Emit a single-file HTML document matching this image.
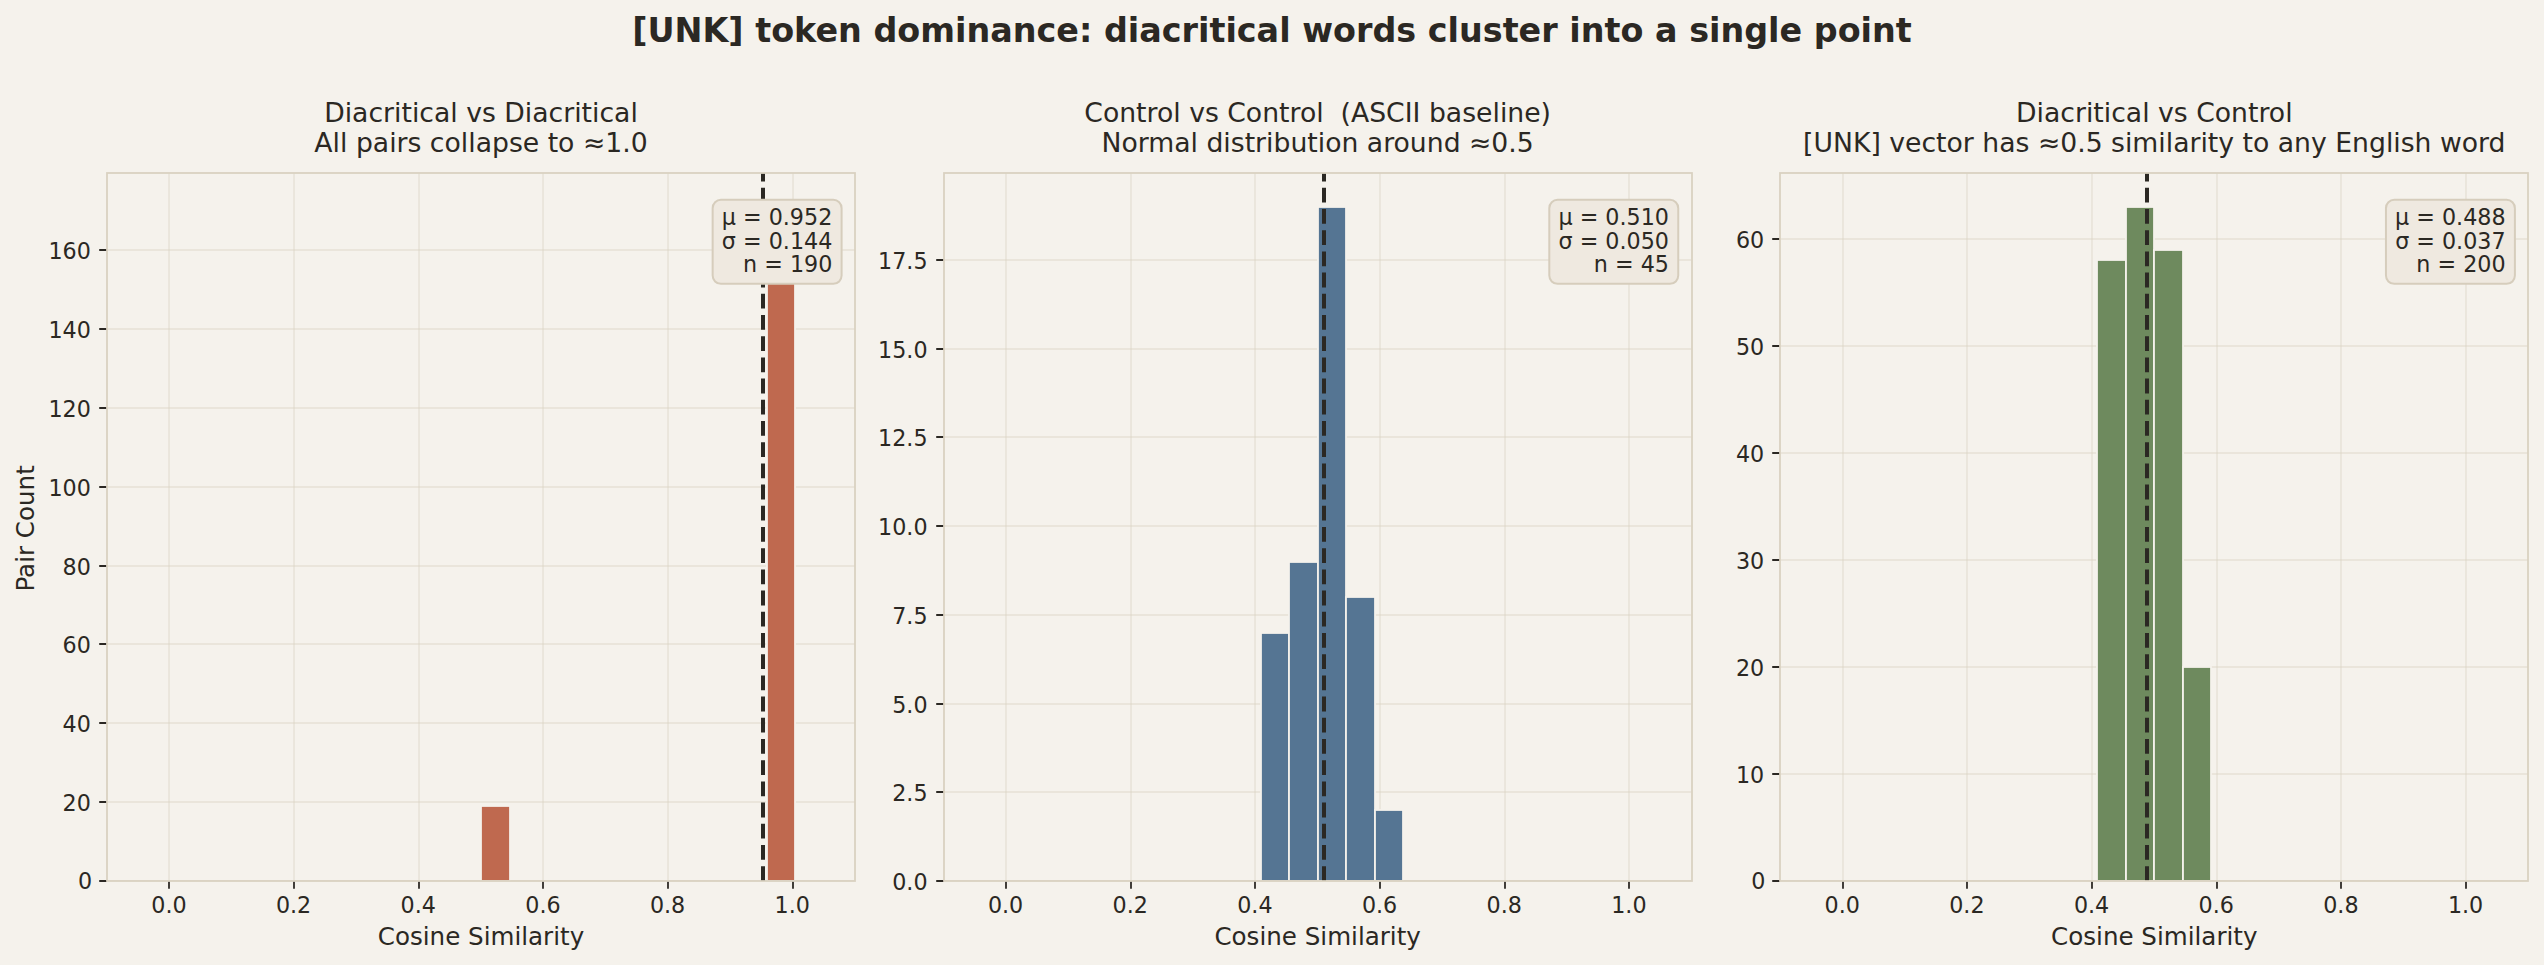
<!DOCTYPE html>
<html lang="en"><head><meta charset="utf-8"><title>[UNK] token dominance</title>
<style>html,body{margin:0;padding:0;background:#f5f2ec;}body{width:2544px;height:965px;overflow:hidden;}svg{display:block;}text{white-space:pre;}</style>
</head><body>
<svg width="2544" height="965" viewBox="0 0 2544 965" font-family="'DejaVu Sans', 'Liberation Sans', sans-serif" fill="#2b2823">
<rect width="2544" height="965" fill="#f5f2ec"/>
<defs><clipPath id="c0"><rect x="107" y="173" width="748" height="708"/></clipPath><clipPath id="c1"><rect x="943.65" y="173" width="748" height="708"/></clipPath><clipPath id="c2"><rect x="1780.3" y="173" width="748" height="708"/></clipPath></defs>
<g id="ax0">
<g stroke="#d9d1c1" stroke-opacity="0.39" stroke-width="1.78" fill="none" clip-path="url(#c0)"><path d="M169 881V173M294 881V173M419 881V173M543 881V173M668 881V173M793 881V173"/><path d="M107 881H855M107 802H855M107 723H855M107 644H855M107 566H855M107 487H855M107 408H855M107 329H855M107 250H855"/></g>
<rect x="481" y="806" width="29" height="75" fill="#bf694f" stroke="#f5f2ec" stroke-width="1.78" clip-path="url(#c0)"/>
<rect x="767" y="207" width="28" height="674" fill="#bf694f" stroke="#f5f2ec" stroke-width="1.78" clip-path="url(#c0)"/>
<path d="M763 881V173" stroke="#2b2823" stroke-width="4" stroke-dasharray="14.8 6.4" fill="none"/>
<path d="M169 881v7.78M294 881v7.78M419 881v7.78M543 881v7.78M668 881v7.78M793 881v7.78M107 881h-7.78M107 802h-7.78M107 723h-7.78M107 644h-7.78M107 566h-7.78M107 487h-7.78M107 408h-7.78M107 329h-7.78M107 250h-7.78" stroke="#2b2823" stroke-width="1.78" fill="none"/>
<rect x="107" y="173" width="748" height="708" fill="none" stroke="#d9d1c1" stroke-width="1.78"/>
<g font-size="22.22" text-anchor="middle"><text x="168.93" y="913.2">0.0</text><text x="293.6" y="913.2">0.2</text><text x="418.27" y="913.2">0.4</text><text x="542.93" y="913.2">0.6</text><text x="667.6" y="913.2">0.8</text><text x="792.27" y="913.2">1.0</text></g>
<g font-size="22.22" text-anchor="end"><text x="92.1" y="889.4">0</text><text x="90.9" y="811.14">20</text><text x="90.9" y="732.27">40</text><text x="90.9" y="653.41">60</text><text x="90.9" y="574.54">80</text><text x="90.9" y="495.68">100</text><text x="90.9" y="416.82">120</text><text x="90.9" y="337.95">140</text><text x="90.9" y="259.09">160</text></g>
<text x="481" y="945.4" font-size="24.57" text-anchor="middle">Cosine Similarity</text>
<text transform="translate(33.6 528.4) rotate(-90)" font-size="24.57" text-anchor="middle">Pair Count</text>
<g font-size="26.67" text-anchor="middle"><text x="481" y="122" xml:space="preserve">Diacritical vs Diacritical</text><text x="481" y="152">All pairs collapse to ≈1.0</text></g>
<rect x="712.65" y="199.85" width="128.95" height="84" rx="8.3" fill="#efe9e0" stroke="#d6cdbc" stroke-width="2"/>
<g font-size="22.22" text-anchor="end"><text x="832.3" y="225">μ = 0.952</text><text x="832.3" y="248.6">σ = 0.144</text><text x="832.3" y="271.6">n = 190</text></g>
</g>
<g id="ax1">
<g stroke="#d9d1c1" stroke-opacity="0.39" stroke-width="1.78" fill="none" clip-path="url(#c1)"><path d="M1006 881V173M1131 881V173M1255 881V173M1380 881V173M1505 881V173M1629 881V173"/><path d="M943.65 881H1691.65M943.65 792H1691.65M943.65 704H1691.65M943.65 615H1691.65M943.65 526H1691.65M943.65 437H1691.65M943.65 349H1691.65M943.65 260H1691.65"/></g>
<rect x="1261" y="633" width="28" height="248" fill="#557593" stroke="#f5f2ec" stroke-width="1.78" clip-path="url(#c1)"/>
<rect x="1289" y="562" width="29" height="319" fill="#557593" stroke="#f5f2ec" stroke-width="1.78" clip-path="url(#c1)"/>
<rect x="1318" y="207" width="28" height="674" fill="#557593" stroke="#f5f2ec" stroke-width="1.78" clip-path="url(#c1)"/>
<rect x="1346" y="597" width="29" height="284" fill="#557593" stroke="#f5f2ec" stroke-width="1.78" clip-path="url(#c1)"/>
<rect x="1375" y="810" width="28" height="71" fill="#557593" stroke="#f5f2ec" stroke-width="1.78" clip-path="url(#c1)"/>
<path d="M1324 881V173" stroke="#2b2823" stroke-width="4" stroke-dasharray="14.8 6.4" fill="none"/>
<path d="M1006 881v7.78M1131 881v7.78M1255 881v7.78M1380 881v7.78M1505 881v7.78M1629 881v7.78M944 881h-7.78M944 792h-7.78M944 704h-7.78M944 615h-7.78M944 526h-7.78M944 437h-7.78M944 349h-7.78M944 260h-7.78" stroke="#2b2823" stroke-width="1.78" fill="none"/>
<rect x="944" y="173" width="748" height="708" fill="none" stroke="#d9d1c1" stroke-width="1.78"/>
<g font-size="22.22" text-anchor="middle"><text x="1005.58" y="913.2">0.0</text><text x="1130.25" y="913.2">0.2</text><text x="1254.92" y="913.2">0.4</text><text x="1379.58" y="913.2">0.6</text><text x="1504.25" y="913.2">0.8</text><text x="1628.92" y="913.2">1.0</text></g>
<g font-size="22.22" text-anchor="end"><text x="927.55" y="890">0.0</text><text x="927.55" y="801.28">2.5</text><text x="927.55" y="712.56">5.0</text><text x="927.55" y="623.83">7.5</text><text x="927.55" y="535.11">10.0</text><text x="927.55" y="446.39">12.5</text><text x="927.55" y="357.67">15.0</text><text x="927.55" y="268.95">17.5</text></g>
<text x="1317.65" y="945.4" font-size="24.57" text-anchor="middle">Cosine Similarity</text>
<g font-size="26.67" text-anchor="middle"><text x="1317.65" y="122" xml:space="preserve">Control vs Control  (ASCII baseline)</text><text x="1317.65" y="152">Normal distribution around ≈0.5</text></g>
<rect x="1549.3" y="199.85" width="128.95" height="84" rx="8.3" fill="#efe9e0" stroke="#d6cdbc" stroke-width="2"/>
<g font-size="22.22" text-anchor="end"><text x="1668.95" y="225">μ = 0.510</text><text x="1668.95" y="248.6">σ = 0.050</text><text x="1668.95" y="271.6">n = 45</text></g>
</g>
<g id="ax2">
<g stroke="#d9d1c1" stroke-opacity="0.39" stroke-width="1.78" fill="none" clip-path="url(#c2)"><path d="M1843 881V173M1967 881V173M2092 881V173M2217 881V173M2341 881V173M2466 881V173"/><path d="M1780.3 881H2528.3M1780.3 774H2528.3M1780.3 667H2528.3M1780.3 560H2528.3M1780.3 453H2528.3M1780.3 346H2528.3M1780.3 239H2528.3"/></g>
<rect x="2097" y="260" width="29" height="621" fill="#6e8a5e" stroke="#f5f2ec" stroke-width="1.78" clip-path="url(#c2)"/>
<rect x="2126" y="207" width="28" height="674" fill="#6e8a5e" stroke="#f5f2ec" stroke-width="1.78" clip-path="url(#c2)"/>
<rect x="2154" y="250" width="29" height="631" fill="#6e8a5e" stroke="#f5f2ec" stroke-width="1.78" clip-path="url(#c2)"/>
<rect x="2183" y="667" width="28" height="214" fill="#6e8a5e" stroke="#f5f2ec" stroke-width="1.78" clip-path="url(#c2)"/>
<path d="M2147 881V173" stroke="#2b2823" stroke-width="4" stroke-dasharray="14.8 6.4" fill="none"/>
<path d="M1843 881v7.78M1967 881v7.78M2092 881v7.78M2217 881v7.78M2341 881v7.78M2466 881v7.78M1780 881h-7.78M1780 774h-7.78M1780 667h-7.78M1780 560h-7.78M1780 453h-7.78M1780 346h-7.78M1780 239h-7.78" stroke="#2b2823" stroke-width="1.78" fill="none"/>
<rect x="1780" y="173" width="748" height="708" fill="none" stroke="#d9d1c1" stroke-width="1.78"/>
<g font-size="22.22" text-anchor="middle"><text x="1842.23" y="913.2">0.0</text><text x="1966.9" y="913.2">0.2</text><text x="2091.57" y="913.2">0.4</text><text x="2216.23" y="913.2">0.6</text><text x="2340.9" y="913.2">0.8</text><text x="2465.57" y="913.2">1.0</text></g>
<g font-size="22.22" text-anchor="end"><text x="1765.4" y="889.4">0</text><text x="1764.2" y="782.97">10</text><text x="1764.2" y="675.94">20</text><text x="1764.2" y="568.91">30</text><text x="1764.2" y="461.88">40</text><text x="1764.2" y="354.85">50</text><text x="1764.2" y="247.82">60</text></g>
<text x="2154.3" y="945.4" font-size="24.57" text-anchor="middle">Cosine Similarity</text>
<g font-size="26.67" text-anchor="middle"><text x="2154.3" y="122" xml:space="preserve">Diacritical vs Control</text><text x="2154.3" y="152">[UNK] vector has ≈0.5 similarity to any English word</text></g>
<rect x="2385.95" y="199.85" width="128.95" height="84" rx="8.3" fill="#efe9e0" stroke="#d6cdbc" stroke-width="2"/>
<g font-size="22.22" text-anchor="end"><text x="2505.6" y="225">μ = 0.488</text><text x="2505.6" y="248.6">σ = 0.037</text><text x="2505.6" y="271.6">n = 200</text></g>
</g>
<text x="1272" y="42.2" font-size="33.38" font-weight="bold" text-anchor="middle">[UNK] token dominance: diacritical words cluster into a single point</text>
</svg>
</body></html>
